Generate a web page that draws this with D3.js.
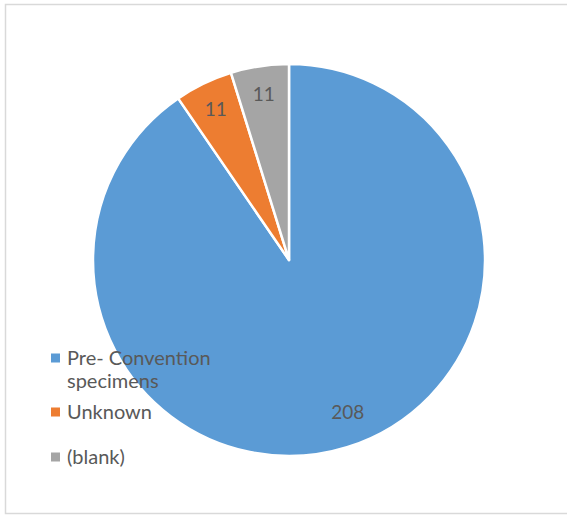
<!DOCTYPE html>
<html><head><meta charset="utf-8">
<script src="https://cdn.jsdelivr.net/npm/d3@7"></script>
<style>html,body{margin:0;padding:0;background:#fff;}svg{display:block;}</style>
</head><body>
<svg id="chart" width="567" height="515"></svg>
<script>
const categories = ["Pre- Convention specimens", "Unknown", "(blank)"];
const legendLines = [["Pre- Convention", "specimens"], ["Unknown"], ["(blank)"]];
const values = [208, 11, 11];
const colors = ["#5B9BD5", "#ED7D31", "#A5A5A5"];

const svg = d3.select("#chart");
const W = 567, H = 515;
svg.append("rect").attr("x", 5.5).attr("y", 4.5).attr("width", W).attr("height", 509)
  .attr("fill", "#fff").attr("stroke", "#d9d9d9").attr("stroke-width", 1.5);

const cx = 289, cy = 260, R = 196;
const pie = d3.pie().sort(null).value(d => d)(values);
const arc = d3.arc().innerRadius(0).outerRadius(R);
const labelArc = d3.arc().innerRadius(168).outerRadius(168);
const g = svg.append("g").attr("transform", `translate(${cx},${cy})`);
g.selectAll("path").data(pie).join("path")
  .attr("d", arc).attr("fill", (d, i) => colors[i])
  .attr("stroke", "#fff").attr("stroke-width", 2.5).attr("stroke-linejoin", "round");
g.selectAll("text").data(pie).join("text")
  .attr("transform", (d, i) => {
    const c = labelArc.centroid(d);
    if (i === 0) { c[0] += 9; c[1] -= 8; }
    return `translate(${c})`;
  })
  .attr("text-anchor", "middle").attr("dy", "0.36em")
  .attr("font-family", "Lato, 'Open Sans', sans-serif").attr("font-size", 19)
  .attr("fill", "#595959").text(d => d.data);

const lg = svg.append("g").attr("font-family", "Lato, 'Open Sans', sans-serif")
  .attr("font-size", 20).attr("fill", "#595959");
const legendY = [358, 412, 457];
legendLines.forEach((lines, i) => {
  lg.append("rect").attr("x", 51).attr("y", legendY[i] - 4.5).attr("width", 9).attr("height", 9)
    .attr("fill", colors[i]);
  const t = lg.append("text").attr("x", 67).attr("y", legendY[i]);
  lines.forEach((ln, j) => {
    t.append("tspan").attr("x", 67).attr("dy", j === 0 ? "0.36em" : "1.15em").text(ln);
  });
});
</script>
</body></html>
